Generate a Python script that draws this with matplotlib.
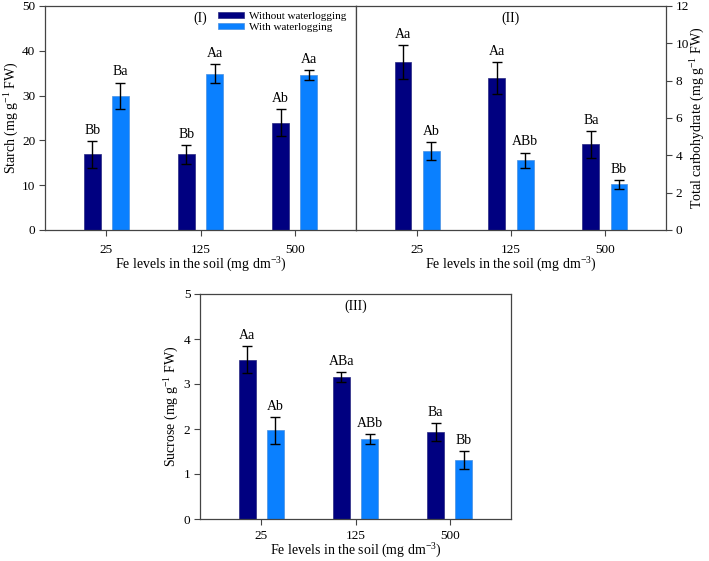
import numpy as np
import matplotlib.pyplot as plt

plt.rcParams['font.family'] = ['Liberation Serif', 'DejaVu Serif']
plt.rcParams['mathtext.fontset'] = 'custom'
plt.rcParams['mathtext.rm'] = 'Liberation Serif'
plt.rcParams['mathtext.it'] = 'Liberation Serif:italic'

fe_levels = ['25', '125', '500']

# (I) Starch
starch_without = [16.9, 16.9, 23.9]
starch_without_err = [3.0, 2.1, 3.0]
starch_with = [29.9, 34.9, 34.6]
starch_with_err = [3.0, 2.1, 1.1]
starch_without_lbl = ['Bb', 'Bb', 'Ab']
starch_with_lbl = ['Ba', 'Aa', 'Aa']

# (II) Total carbohydrate
carb_without = [9.01, 8.14, 4.59]
carb_without_err = [0.90, 0.86, 0.72]
carb_with = [4.21, 3.73, 2.44]
carb_with_err = [0.48, 0.42, 0.22]
carb_without_lbl = ['Aa', 'Aa', 'Ba']
carb_with_lbl = ['Ab', 'ABb', 'Bb']

# (III) Sucrose
suc_without = [3.54, 3.15, 1.93]
suc_without_err = [0.30, 0.11, 0.20]
suc_with = [1.97, 1.78, 1.31]
suc_with_err = [0.30, 0.11, 0.20]
suc_without_lbl = ['Aa', 'ABa', 'Ba']
suc_with_lbl = ['Ab', 'ABb', 'Bb']

dark = '#000080'
light = '#0A80FF'
spine_col = '#444444'
xlabel = 'Fe levels in the soil (mg dm$^{-3}$)'
fs = 10

fig = plt.figure(figsize=(7.09, 5.61), dpi=100)
ax1 = fig.add_axes([45 / 709, 1 - 230 / 561, 311 / 709, 224 / 561])
ax2 = fig.add_axes([356 / 709, 1 - 230 / 561, 310 / 709, 224 / 561])
ax3 = fig.add_axes([200 / 709, 1 - 519 / 561, 311 / 709, 225 / 561])

x = np.arange(len(fe_levels))
w = 0.18
off = 0.15


def draw(ax, v1, e1, l1, v2, e2, l2, ymax, ystep, tag):
    b1 = ax.bar(x - off, v1, w, color=dark, edgecolor='#2a2a80', linewidth=0.5,
                label='Without waterlogging')
    b2 = ax.bar(x + off, v2, w, color=light, edgecolor='#4a90e0', linewidth=0.5,
                label='With waterlogging')
    ax.errorbar(x - off, v1, yerr=e1, fmt='none', ecolor='black', elinewidth=1,
                capsize=3.5, capthick=1)
    ax.errorbar(x + off, v2, yerr=e2, fmt='none', ecolor='black', elinewidth=1,
                capsize=3.5, capthick=1)
    for xi, v, e, t in zip(x - off, v1, e1, l1):
        ax.annotate(t, (xi, v + e), xytext=(0, 3), textcoords='offset points',
                    ha='center', va='bottom', fontsize=fs)
    for xi, v, e, t in zip(x + off, v2, e2, l2):
        ax.annotate(t, (xi, v + e), xytext=(0, 3), textcoords='offset points',
                    ha='center', va='bottom', fontsize=fs)
    ax.set_xlim(-0.65, 2.65)
    ax.set_ylim(0, ymax)
    ax.set_yticks(np.arange(0, ymax + ystep / 2, ystep))
    ax.set_xticks(x)
    ax.set_xticklabels(fe_levels)
    ax.tick_params(labelsize=9.5, length=4, color=spine_col, width=0.8, pad=3)
    ax.tick_params(axis='x', pad=6)
    ax.set_xlabel(xlabel, fontsize=fs, labelpad=0)
    for s in ax.spines.values():
        s.set_color(spine_col)
        s.set_linewidth(0.9)
    ax.text(0.5, 0.975, tag, transform=ax.transAxes, ha='center', va='top',
            fontsize=fs)
    return b1, b2


b1, b2 = draw(ax1, starch_without, starch_without_err, starch_without_lbl,
              starch_with, starch_with_err, starch_with_lbl, 50, 10, '(I)')
ax1.set_ylabel('Starch (mg g$^{-1}$ FW)', fontsize=fs)
ax1.yaxis.set_label_coords(-0.077, 0.5)
ax1.legend(loc='upper right', fontsize=8, frameon=False, handlelength=2.3,
           handleheight=0.45, handletextpad=0.45, labelspacing=0.15,
           bbox_to_anchor=(1.0, 1.016))

draw(ax2, carb_without, carb_without_err, carb_without_lbl,
     carb_with, carb_with_err, carb_with_lbl, 12, 2, '(II)')
ax2.yaxis.tick_right()
ax2.yaxis.set_label_position('right')
ax2.set_ylabel('Total carbohydrate (mg g$^{-1}$ FW)', fontsize=fs)
ax2.yaxis.set_label_coords(1.072, 0.5)

draw(ax3, suc_without, suc_without_err, suc_without_lbl,
     suc_with, suc_with_err, suc_with_lbl, 5, 1, '(III)')
ax3.set_ylabel('Sucrose (mg g$^{-1}$ FW)', fontsize=fs)
ax3.yaxis.set_label_coords(-0.062, 0.5)
ax3.tick_params(axis='x', pad=4)
ax3.set_xlabel(xlabel, fontsize=fs, labelpad=-0.5)

fig.savefig('out.png', dpi=100)
